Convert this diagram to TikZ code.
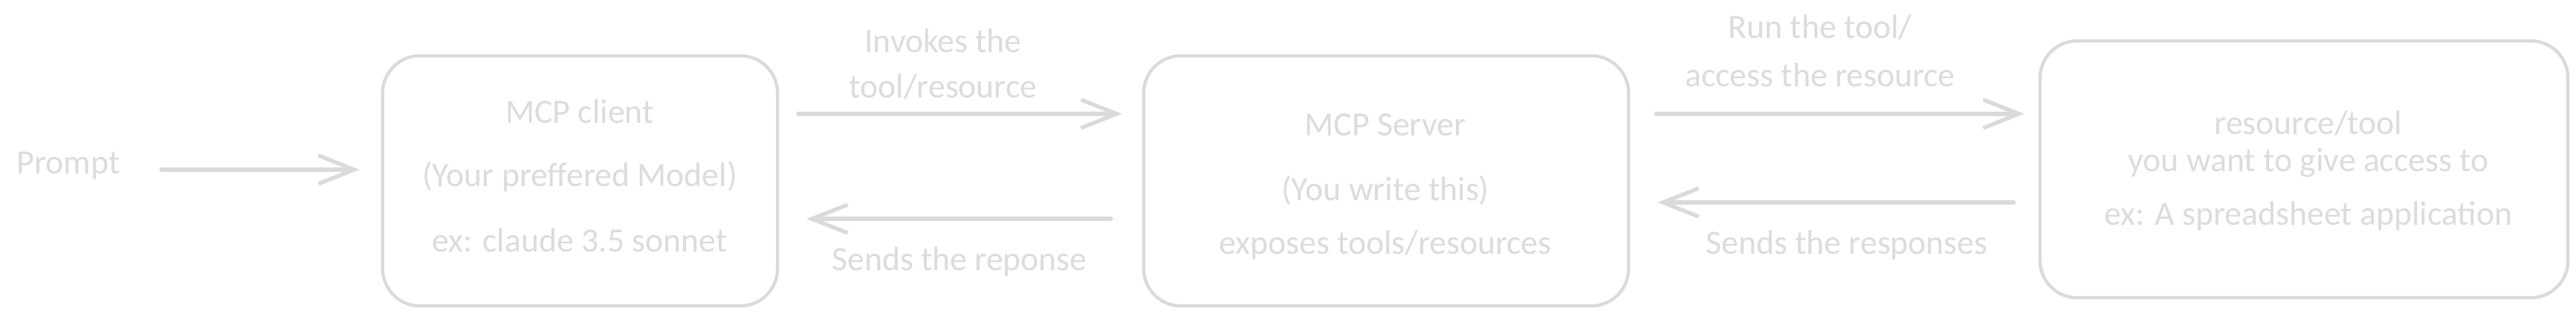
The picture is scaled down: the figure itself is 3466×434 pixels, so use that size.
\documentclass[tikz,border=0pt]{standalone}
\usepackage{fontspec}
\setmainfont{Carlito}
\usetikzlibrary{arrows.meta}
\definecolor{sk}{RGB}{218,218,218}
\definecolor{sktext}{RGB}{220,220,220}
\tikzset{
  skbox/.style={draw=sk, line width=1.2pt, rounded corners=0.5cm, fill=none},
  sklabel/.style={text=sktext, font=\fontsize{13}{15}\selectfont, inner sep=0pt, align=center},
  arr/.style={draw=sk, line width=1.6pt, line cap=round, -{Straight Barb[length=0.48cm, width=0.38cm, line width=1.5pt]}}
}
\begin{document}
\begin{tikzpicture}[x=0.01cm, y=-0.01cm]
\useasboundingbox (0,0) rectangle (3466,434);
\fill[white] (0,0) rectangle (3466,434);

% nodes
\node[sklabel, anchor=west] (prompt) at (22,223) {Prompt};
\node[skbox, minimum width=5.31cm, minimum height=3.36cm] (client) at (780.5,243) {};
\node[skbox, minimum width=6.52cm, minimum height=3.36cm] (server) at (1865,243) {};
\node[skbox, minimum width=7.10cm, minimum height=3.45cm] (res) at (3100,227.5) {};

% box texts
\node[sklabel] (c1) at (780,150) {MCP client};
\node[sklabel] (c2) at (780,237) {(Your preffered Model)};
\node[sklabel] (c3) at (780,323) {ex: claude 3.5 sonnet};
\node[sklabel] (s1) at (1864,168) {MCP Server};
\node[sklabel] (s2) at (1864,256) {(You write this)};
\node[sklabel] (s3) at (1864,329) {exposes tools/resources};
\node[sklabel] (r1) at (3106,166) {resource/tool};
\node[sklabel] (r2) at (3106,219) {you want to give access to};
\node[sklabel] (r3) at (3106,290) {ex: A spreadsheet application};

% arrow labels
\node[sklabel] (l1) at (1269,86) {Invokes the\\[0.09cm]tool/resource};
\node[sklabel] (l2) at (1291,351) {Sends the reponse};
\node[sklabel] (l3) at (2449,68) {Run the tool/\\[0.12cm]access the resource};
\node[sklabel] (l4) at (2485,329) {Sends the responses};

% connectors
\draw[arr] ([xshift=0.55cm, yshift=-0.05cm]prompt.east) -- ([xshift=-0.29cm, yshift=0.15cm]client.west);
\draw[arr] ([xshift=0.26cm, yshift=0.90cm]client.east) -- ([xshift=-0.27cm, yshift=0.90cm]server.west);
\draw[arr] ([xshift=-0.42cm, yshift=-0.51cm]server.west) -- ([xshift=0.37cm, yshift=-0.51cm]client.east);
\draw[arr] ([xshift=0.35cm, yshift=0.90cm]server.east) -- ([xshift=-0.19cm, yshift=0.745cm]res.west);
\draw[arr] ([xshift=-0.33cm, yshift=-0.445cm]res.west) -- ([xshift=0.37cm, yshift=-0.29cm]server.east);
\end{tikzpicture}
\end{document}
